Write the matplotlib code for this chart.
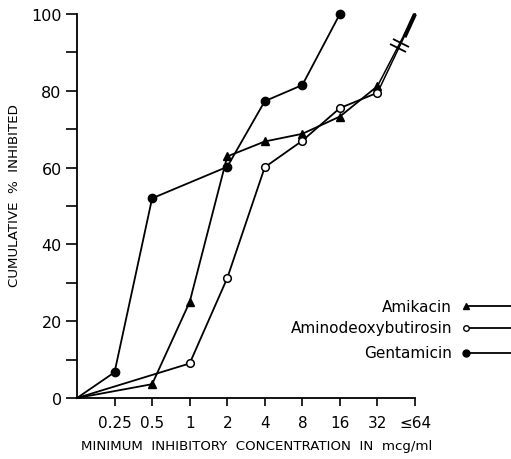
import numpy as np
import matplotlib
matplotlib.use("Agg")
import matplotlib.pyplot as plt
from matplotlib.markers import MarkerStyle
from matplotlib.transforms import Affine2D

# ----- categories on the x axis (position 0 is the origin, unlabeled) -----
MIC_LABELS = ["", "0.25", "0.5", "1", "2", "4", "8", "16", "32", "≤64"]

# ----- cumulative % inhibited; positions index MIC_LABELS -----
GENT_X = [0, 1, 2, 4, 5, 6, 7]
GENT_Y = [0, 6.7, 52, 60.2, 77.3, 81.5, 100]
AMIK_X = [0, 2, 3, 4, 5, 6, 7, 8]
AMIK_Y = [0, 3.6, 25, 62.9, 66.8, 68.8, 73.3, 81.2]
AMINO_X = [0, 3, 4, 5, 6, 7, 8]
AMINO_Y = [0, 9.0, 31.2, 60.1, 67.0, 75.5, 79.5]
TOP_X = [8, 9]          # 32 -> <=64 broken segment
AMIK_TOP = [81.2, 100]
AMINO_TOP = [79.5, 100]

plt.rcParams["font.family"] = "DejaVu Sans"
LW = 1.3
NO_ORIGIN = slice(1, None)

fig = plt.figure(figsize=(5.11, 4.60), dpi=100)
ax = fig.add_axes([77 / 511, 61 / 460, 338 / 511, 384 / 460])

ax.plot(GENT_X, GENT_Y, "-o", color="black", lw=LW, ms=6, markevery=NO_ORIGIN,
        clip_on=False, zorder=3)
ax.plot(AMIK_X, AMIK_Y, "-^", color="black", lw=LW, ms=6, markevery=NO_ORIGIN,
        clip_on=False, zorder=3)
ax.plot(AMINO_X, AMINO_Y, "-o", color="black", lw=LW, ms=5.5, mfc="white", mew=1.1,
        markevery=NO_ORIGIN, clip_on=False, zorder=4)
ax.plot(TOP_X, AMIK_TOP, "-", color="black", lw=1.1, clip_on=False, zorder=2)
ax.plot(TOP_X, AMINO_TOP, "-", color="black", lw=1.1, clip_on=False, zorder=2)
# thicker tip where both lines merge
ax.plot([8.72, 9], [94, 100], "-", color="black", lw=3.0, clip_on=False, zorder=2,
        solid_capstyle="butt")

# break marks "//" on the 32 -> <=64 segment
brk = MarkerStyle("_", transform=Affine2D().rotate_deg(-26))
for bx in (8.55, 8.63):
    by = np.interp(bx, TOP_X, AMIK_TOP) - 0.5
    ax.plot([bx], [by], marker=brk, ms=13, mew=1.3, color="black", clip_on=False, zorder=5)

ax.set_xlim(0, 9)
ax.set_ylim(0, 100)
ax.set_xticks(range(1, len(MIC_LABELS)))
ax.set_xticklabels(MIC_LABELS[1:], fontsize=11)
ax.set_yticks(range(0, 101, 10))
ax.set_yticklabels([str(v) if v % 20 == 0 else "" for v in range(0, 101, 10)], fontsize=11.5)
ax.tick_params(axis="y", length=8, width=1.2, pad=3)
ax.tick_params(axis="x", length=6, width=1.2, pad=6)
for s in ("top", "right"):
    ax.spines[s].set_visible(False)
for s in ("left", "bottom"):
    ax.spines[s].set_linewidth(1.3)

fig.text(257 / 511, 1 - 447 / 460, "MINIMUM  INHIBITORY  CONCENTRATION  IN  mcg/ml",
         ha="center", va="center", fontsize=9.6)
fig.text(15 / 511, 1 - 196 / 460, "CUMULATIVE  %  INHIBITED", rotation=90,
         ha="center", va="center", fontsize=9.6)

# hand-drawn key at the right edge
KEY_NAMES = ["Amikacin", "Aminodeoxybutirosin", "Gentamicin"]
KEY_MARK = [dict(marker="^", mfc="black", ms=4.5), dict(marker="o", mfc="white", ms=4, mew=1),
            dict(marker="o", mfc="black", ms=5)]
key_y = [307, 329, 354]
for name, mk, py in zip(KEY_NAMES, KEY_MARK, key_y):
    yy = 1 - py / 460
    fig.text(452 / 511, yy, name, ha="right", va="center", fontsize=11)
    fig.add_artist(plt.Line2D([466 / 511, 1.0], [yy, yy], color="black", lw=1.3,
                              transform=fig.transFigure))
    fig.add_artist(plt.Line2D([466 / 511], [yy], color="black", lw=0, mec="black",
                              transform=fig.transFigure, **mk))

fig.savefig("out.png", dpi=100)
